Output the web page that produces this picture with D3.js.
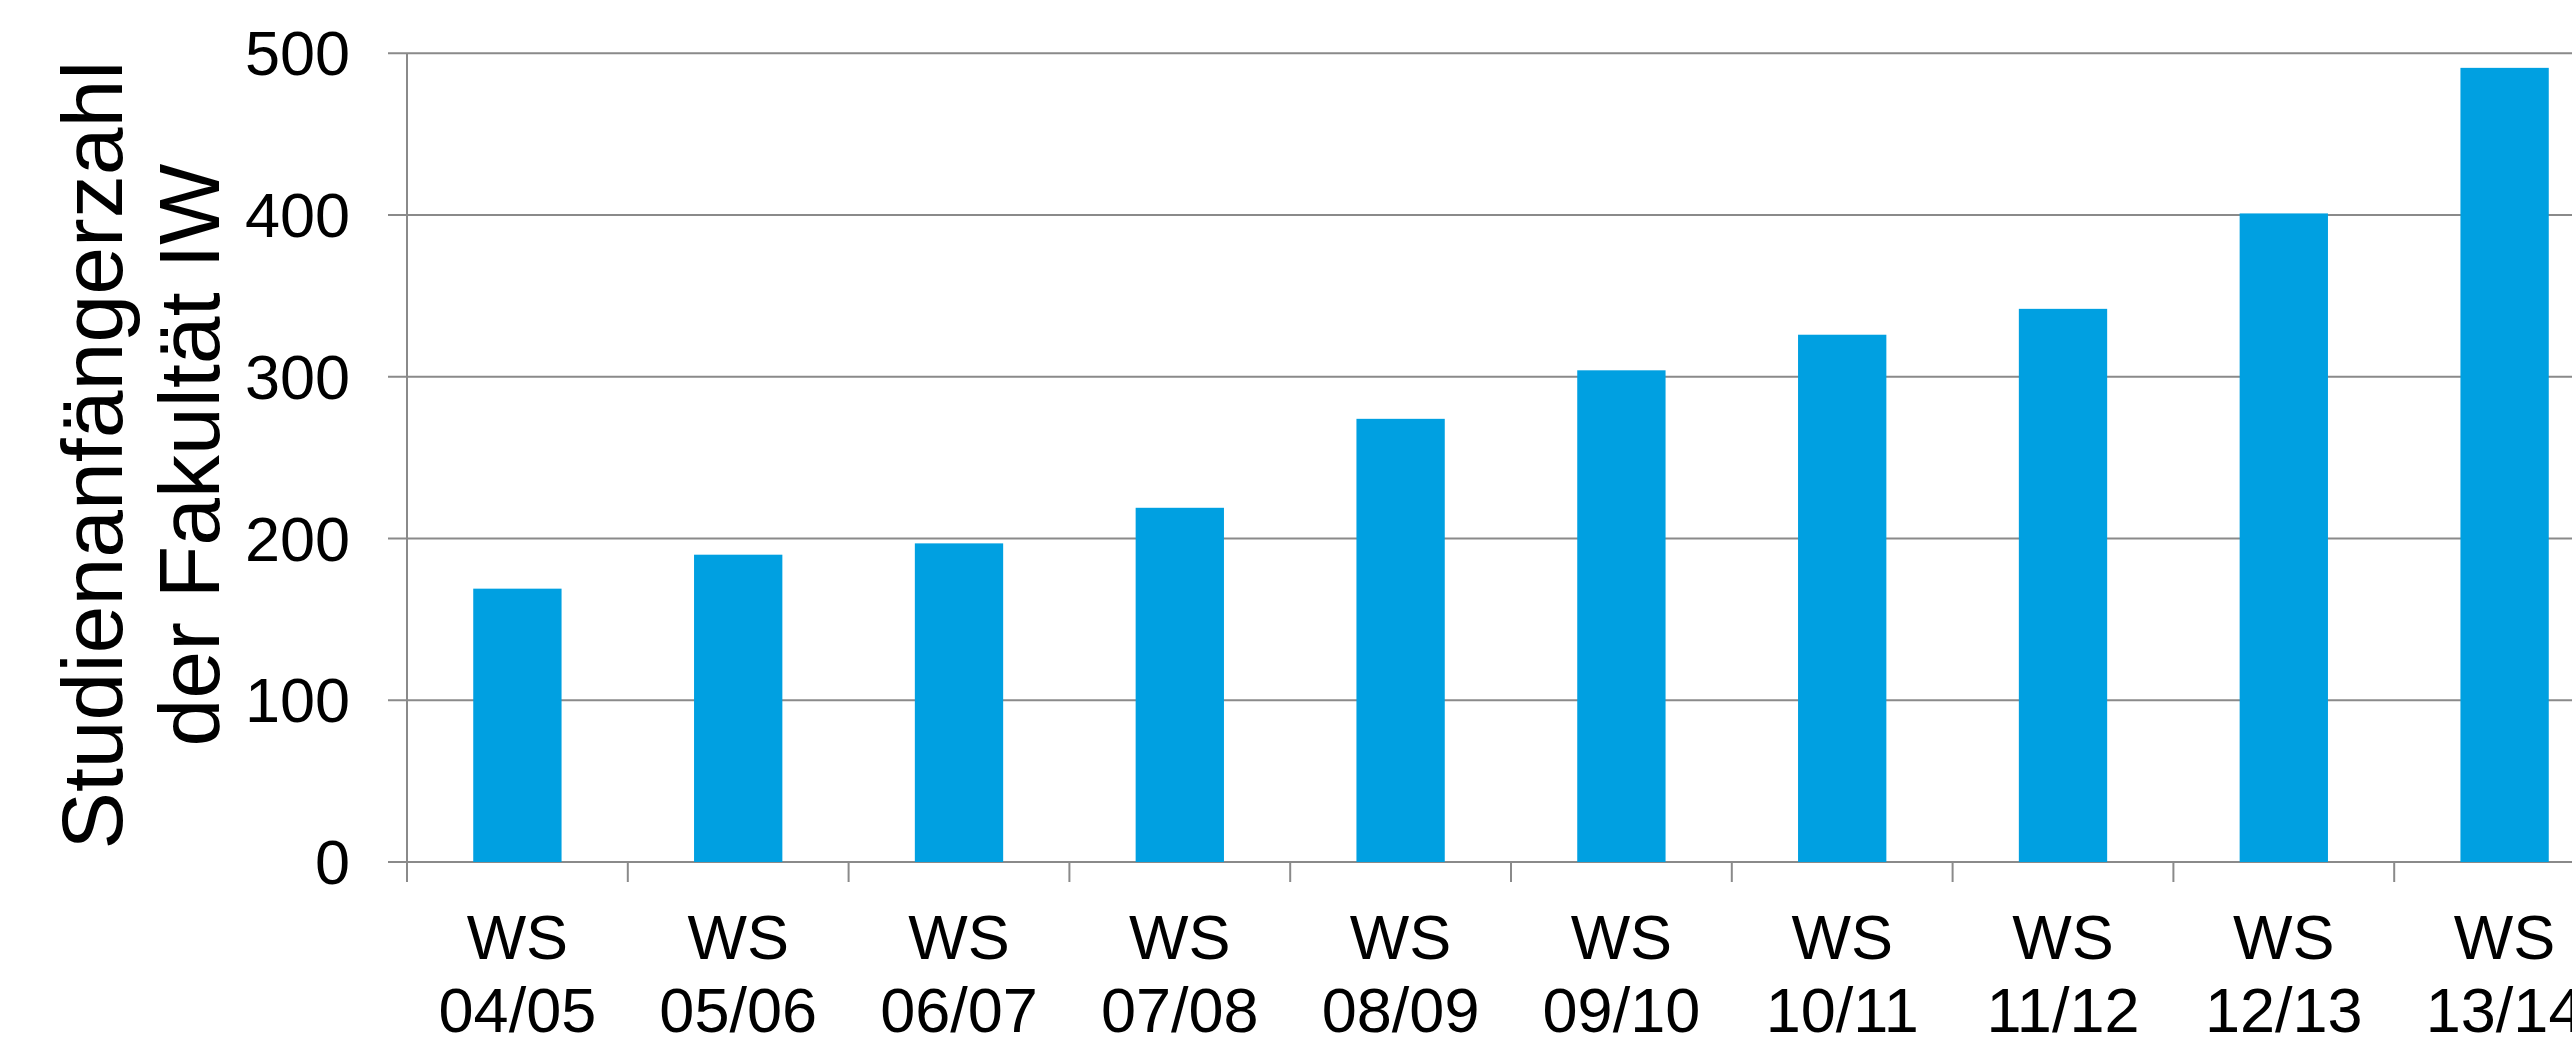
<!DOCTYPE html>
<html>
<head>
<meta charset="utf-8">
<script src="https://cdn.jsdelivr.net/npm/d3@7"></script>
<style>
  html, body { margin: 0; padding: 0; background: #fff; overflow: hidden; }
  svg { display: block; }
</style>
</head>
<body>
<script>
// data
const semesters = ['04/05', '05/06', '06/07', '07/08', '08/09', '09/10', '10/11', '11/12', '12/13', '13/14'];
const starters = [169, 190, 197, 219, 274, 304, 326, 342, 401, 491];
const yTicks = [0, 100, 200, 300, 400, 500];
const yTitle = ['Studienanfängerzahl', 'der Fakultät IW'];

const width = 2572,
  height = 1042;

const plotLeft = 407, plotRight = 2615, plotTop = 53.3, plotBottom = 862;

const svg = d3.select('body').append('svg')
  .attr('width', width)
  .attr('height', height)
  .style('font-family', '"Liberation Sans", Arial, sans-serif');

const x = d3.scaleBand()
  .domain(semesters)
  .range([plotLeft, plotRight])
  .padding(0);

const y = d3.scaleLinear()
  .domain([0, 500])
  .range([plotBottom, plotTop]);

const grey = '#8a8a8a';

// gridlines + y ticks
svg.append('g')
  .selectAll('line')
  .data(yTicks)
  .enter().append('line')
    .attr('x1', plotLeft - 19)
    .attr('x2', plotRight)
    .attr('y1', (d) => y(d))
    .attr('y2', (d) => y(d))
    .attr('stroke', grey)
    .attr('stroke-width', 2);

// bars
svg.append('g')
  .selectAll('rect')
  .data(starters)
  .enter().append('rect')
    .attr('x', (d, i) => x(semesters[i]) + x.bandwidth() * 0.3)
    .attr('width', x.bandwidth() * 0.4)
    .attr('y', (d) => y(d))
    .attr('height', (d) => y(0) - y(d))
    .attr('fill', '#00a0e1');

// y axis line
svg.append('line')
  .attr('x1', plotLeft).attr('x2', plotLeft)
  .attr('y1', plotTop).attr('y2', plotBottom + 20)
  .attr('stroke', grey)
  .attr('stroke-width', 2);

// x ticks at category boundaries
svg.append('g')
  .selectAll('line')
  .data(semesters.concat(['end']))
  .enter().append('line')
    .attr('x1', (d, i) => plotLeft + i * x.step())
    .attr('x2', (d, i) => plotLeft + i * x.step())
    .attr('y1', plotBottom)
    .attr('y2', plotBottom + 20)
    .attr('stroke', grey)
    .attr('stroke-width', 2);

// y tick labels
svg.append('g')
  .selectAll('text')
  .data(yTicks)
  .enter().append('text')
    .attr('x', 350)
    .attr('y', (d) => y(d))
    .attr('dy', '0.35em')
    .attr('text-anchor', 'end')
    .attr('font-size', 63)
    .attr('fill', '#000')
    .text((d) => d);

// x labels
const xl = svg.append('g')
  .selectAll('text')
  .data(semesters)
  .enter().append('text')
    .attr('text-anchor', 'middle')
    .attr('font-size', 63)
    .attr('fill', '#000');

xl.append('tspan')
  .attr('x', (d) => x(d) + x.bandwidth() / 2)
  .attr('y', 959)
  .text('WS');

xl.append('tspan')
  .attr('x', (d) => x(d) + x.bandwidth() / 2)
  .attr('y', 1032)
  .text((d) => d);

// y title
svg.append('g')
  .selectAll('text')
  .data(yTitle)
  .enter().append('text')
    .attr('transform', (d, i) => `translate(${122 + i * 97},455) rotate(-90)`)
    .attr('text-anchor', 'middle')
    .attr('font-size', 86)
    .attr('fill', '#000')
    .text((d) => d);
</script>
</body>
</html>
